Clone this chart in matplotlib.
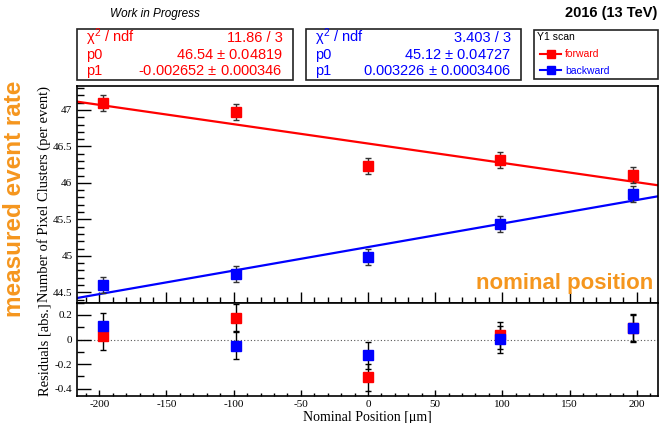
import matplotlib
matplotlib.use('Agg')
import matplotlib.pyplot as plt
from matplotlib.patches import Rectangle
from matplotlib.lines import Line2D
from matplotlib.ticker import MultipleLocator
import numpy as np

# nominal positions of the scan steps (um)
positions = [-197, -98.5, 0, 98.5, 197]

# measured pixel clusters per event
forward = [47.09, 46.977, 46.232, 46.314, 46.108]
backward = [44.594, 44.752, 44.99, 45.44, 45.85]
forward_err = [0.11, 0.11, 0.11, 0.11, 0.11]
backward_err = [0.11, 0.11, 0.11, 0.11, 0.11]

# linear fit results (p0, p1)
fit_forward = (46.54, -0.002652)
fit_backward = (45.12, 0.003226)

stats_forward = [('$\\chi^2$ / ndf', '11.86 / 3'),
                 ('p0', '46.54 $\\pm$ 0.04819'),
                 ('p1', '-0.002652 $\\pm$ 0.000346')]
stats_backward = [('$\\chi^2$ / ndf', '3.403 / 3'),
                  ('p0', '45.12 $\\pm$ 0.04727'),
                  ('p1', '0.003226 $\\pm$ 0.0003406')]

SANS = 'Liberation Sans'
SERIF = 'Liberation Serif'
ORANGE = '#f5961e'
plt.rcParams['mathtext.fontset'] = 'custom'
plt.rcParams['mathtext.rm'] = SANS
plt.rcParams['mathtext.it'] = SANS

W, H = 660, 423
fig = plt.figure(figsize=(W / 100, H / 100), dpi=100)


def fx(px):
    return px / W


def fy(py):
    return 1 - py / H


ax = fig.add_axes([fx(77.3), fy(302.7), fx(657.5 - 77.3), fy(85.7) - fy(302.7)])
rax = fig.add_axes([fx(77.3), fy(395.7), fx(657.5 - 77.3), fy(302.7) - fy(395.7)], sharex=ax)

xmin, xmax = -216.4, 215.5
xs = np.array([xmin, xmax])
pos = np.array(positions)

for data, err, fit, col in [(forward, forward_err, fit_forward, 'red'),
                            (backward, backward_err, fit_backward, 'blue')]:
    ax.plot(xs, fit[0] + fit[1] * xs, color=col, lw=1.6, zorder=2)
    ax.errorbar(positions, data, yerr=err, fmt='none', ecolor='#333333',
                elinewidth=1, capsize=2, capthick=1, zorder=3)
    ax.plot(positions, data, 's', color=col, ms=7, zorder=4)

# residuals: data minus fit
res_f = np.array(forward) - (fit_forward[0] + fit_forward[1] * pos)
res_b = np.array(backward) - (fit_backward[0] + fit_backward[1] * pos)
rax.axhline(0, color='#555555', lw=0.8, ls=(0, (1, 2)), zorder=1)
for res, err, col in [(res_f, forward_err, 'red'), (res_b, backward_err, 'blue')]:
    rax.errorbar(positions, res, yerr=err, fmt='o', ms=2, color='black',
                 ecolor='black', elinewidth=1, capsize=2, capthick=1, zorder=3)
for res, col in [(res_f, 'red'), (res_b, 'blue')]:
    rax.plot(positions, res, 's', color=col, ms=7, zorder=4)

ax.set_xlim(xmin, xmax)
ax.set_ylim(44.357, 47.333)
rax.set_ylim(-0.458, 0.30)

ax.yaxis.set_major_locator(MultipleLocator(0.5))
ax.yaxis.set_minor_locator(MultipleLocator(0.1))
ax.xaxis.set_major_locator(MultipleLocator(50))
ax.xaxis.set_minor_locator(MultipleLocator(10))
rax.yaxis.set_major_locator(MultipleLocator(0.2))
rax.yaxis.set_minor_locator(MultipleLocator(0.1))

for a in (ax, rax):
    a.tick_params(which='both', direction='in', top=False, right=False,
                  labelsize=8, width=1)
    for s in a.spines.values():
        s.set_linewidth(1.2)

ax.tick_params(axis='y', which='major', length=10)
ax.tick_params(axis='y', which='minor', length=5)
ax.tick_params(axis='x', which='major', length=8)
ax.tick_params(axis='x', which='minor', length=4)
ax.tick_params(axis='x', labelbottom=False)
rax.tick_params(axis='y', which='major', length=10)
rax.tick_params(axis='y', which='minor', length=5)
rax.tick_params(axis='x', which='major', length=4, pad=3)
rax.tick_params(axis='x', which='minor', length=2)

ax.set_yticks([44.5, 45, 45.5, 46, 46.5, 47])
ax.set_yticklabels(['44.5', '45', '45.5', '46', '46.5', '47'], family=SERIF)
rax.set_yticks([-0.4, -0.2, 0, 0.2])
rax.set_yticklabels(['-0.4', '-0.2', '0', '0.2'], family=SERIF)
rax.set_xticks([-200, -150, -100, -50, 0, 50, 100, 150, 200])
rax.set_xticklabels(['-200', '-150', '-100', '-50', '0', '50', '100', '150', '200'],
                    family=SERIF)

ax.set_ylabel('Number of Pixel Clusters (per event)', family=SERIF, fontsize=10.5)
rax.set_ylabel('Residuals [abs.]', family=SERIF, fontsize=10.5)
rax.set_xlabel('Nominal Position [\u03bcm]', family=SERIF, fontsize=10)
ax.yaxis.set_label_coords(-0.045, 0.5)
rax.yaxis.set_label_coords(-0.045, 0.5)
rax.xaxis.set_label_coords(0.5, -0.165)

ax.text(0.992, 0.04, 'nominal position', transform=ax.transAxes, ha='right',
        va='bottom', color=ORANGE, fontsize=16, fontweight='bold', family=SANS)
fig.text(fx(15), fy(199), 'measured event rate', rotation=90, ha='center', va='center',
         color=ORANGE, fontsize=17.5, fontweight='bold', family=SANS)

fig.text(fx(110), fy(13.5), 'Work in Progress', ha='left', va='center',
         fontsize=8.5, style='italic', family=SANS)
fig.text(fx(657), fy(13.5), '2016 (13 TeV)', ha='right', va='center',
         fontsize=10.5, fontweight='bold', family=SANS)


def stat_box(x0, x1, rows, col):
    fig.patches.append(Rectangle((fx(x0), fy(80)), fx(x1 - x0), fy(29.3) - fy(80),
                                 transform=fig.transFigure, fill=False,
                                 ec='#222222', lw=1.2))
    for i, (name, val) in enumerate(rows):
        y = fy(42 + 16.6 * i)
        fig.text(fx(x0 + 9), y, name, ha='left', va='baseline', color=col,
                 fontsize=10.5, family=SANS)
        fig.text(fx(x1 - 10), y, val, ha='right', va='baseline', color=col,
                 fontsize=10.5, family=SANS)


stat_box(77.3, 292.7, stats_forward, 'red')
stat_box(306, 521, stats_backward, 'blue')

# legend box
fig.patches.append(Rectangle((fx(534), fy(79.5)), fx(657.5 - 534), fy(30) - fy(79.5),
                             transform=fig.transFigure, fill=False, ec='#222222', lw=1.2))
fig.text(fx(537), fy(37.5), 'Y1 scan', ha='left', va='center', fontsize=7.5, family=SANS)
for i, (name, col) in enumerate([('forward', 'red'), ('backward', 'blue')]):
    y = fy(54 + 16.5 * i)
    fig.lines.append(Line2D([fx(540), fx(561)], [y, y], transform=fig.transFigure,
                            color=col, lw=1.5))
    fig.lines.append(Line2D([fx(550.5)], [y], transform=fig.transFigure, color=col,
                            marker='s', ms=6))
    fig.text(fx(565), y, name, ha='left', va='center', color=col, fontsize=7.5,
             family=SANS)

fig.savefig('out.png', dpi=100)
